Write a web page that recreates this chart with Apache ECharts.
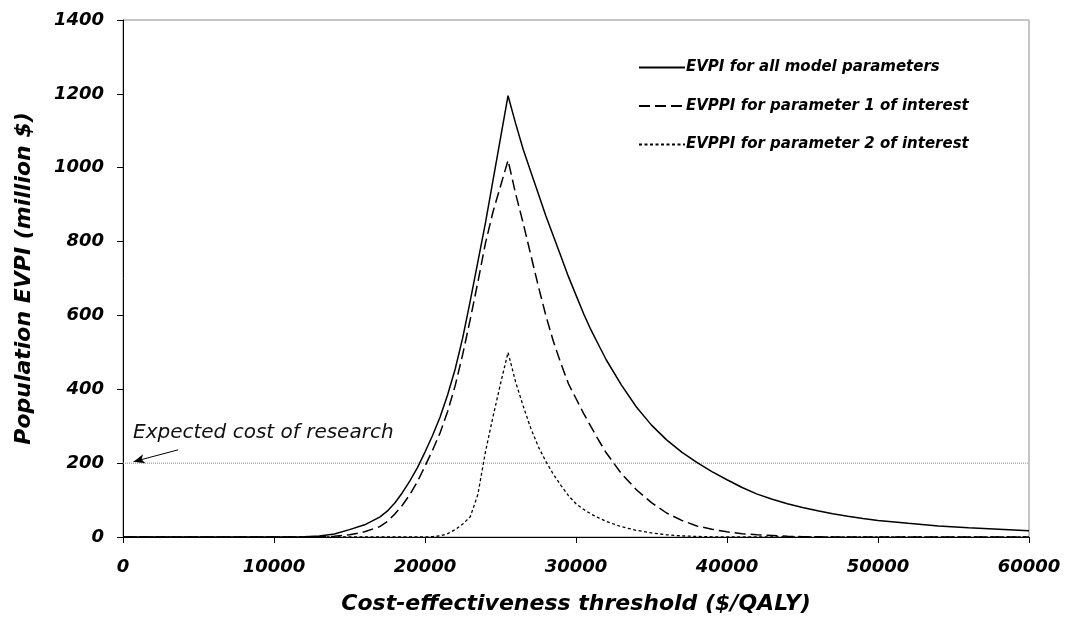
<!DOCTYPE html>
<html>
<head>
<meta charset="utf-8">
<script src="https://cdn.jsdelivr.net/npm/echarts@6/dist/echarts.min.js"></script>
<style>html,body{margin:0;padding:0;background:#fff}#c{width:1066px;height:630px}</style>
</head>
<body>
<div id="c"></div>
<script>
// Threshold values ($/QALY)
var thresholds = [0,2000,4000,6000,8000,10000,11000,12000,13000,14000,15000,16000,17000,17500,18000,18500,19000,19500,20000,20500,21000,21500,22000,22500,23000,23500,24000,24500,25000,25500,26000,26500,27000,27500,28000,28500,29000,29500,30000,30500,31000,31500,32000,33000,34000,35000,36000,37000,38000,39000,40000,41000,42000,43000,44000,45000,46000,47000,48000,49000,50000,52000,54000,56000,58000,60000];
// EVPI for all model parameters (million $)
var evpiAll = [0,0,0,0,0,0,0,1,3,8,20,33,54,70,92,120,152,188,230,275,325,385,455,540,640,745,850,965,1080,1195,1120,1050,990,930,870,815,760,705,655,605,560,520,480,412,352,303,263,230,202,177,155,134,116,102,90,80,71,63,56,50,45,37,30,25,21,17];
// EVPPI for parameter 1 of interest
var evppi1 = [0,0,0,0,0,0,0,0,0.5,2,6,14,28,42,62,86,115,150,192,235,282,340,410,495,590,690,795,880,950,1020,930,850,765,680,600,530,470,415,375,335,298,262,228,172,128,93,65,45,30,21,14,9,6,4,2,1,0.5,0,0,0,0,0,0,0,0,0];
// EVPPI for parameter 2 of interest
var evppi2 = [0,0,0,0,0,0,0,0,0,0,0,0,0,0,0,0,0,0,0,1,3,9,20,35,55,115,230,325,415,500,420,355,295,245,205,170,140,112,90,75,62,52,42,28,18,11,6,3,1.5,0.5,0,0,0,0,0,0,0,0,0,0,0,0,0,0,0,0];
var seriesNames = ['EVPI for all model parameters','EVPPI for parameter 1 of interest','EVPPI for parameter 2 of interest'];
var researchCost = 200;
var researchLabel = 'Expected cost of research';
var xTitle = 'Cost-effectiveness threshold ($/QALY)';
var yTitle = 'Population EVPI (million $)';

function pairs(ys){ return thresholds.map(function(x,i){ return [x, ys[i]]; }); }

var FONT = 'DejaVu Sans';
var chart = echarts.init(document.getElementById('c'), null, {renderer:'canvas'});
chart.setOption({
  animation:false,
  backgroundColor:'#fff',
  grid:{left:123,right:37,top:20,bottom:93,show:true,borderColor:'#8c8c8c',borderWidth:1,containLabel:false},
  legend:{
    orient:'vertical', left:633, top:55, itemWidth:46, itemHeight:14, itemGap:23.5,
    data:seriesNames,
    itemStyle:{opacity:0},
    textStyle:{fontFamily:FONT,fontStyle:'italic',fontWeight:'bold',fontSize:15,color:'#000',padding:[0,0,0,-4]}
  },
  xAxis:{
    type:'value', min:0, max:60000, interval:10000,
    name:xTitle, nameLocation:'middle', nameGap:56,
    nameTextStyle:{fontFamily:FONT,fontStyle:'italic',fontWeight:'bold',fontSize:22,color:'#000'},
    axisLine:{show:true,onZero:false,lineStyle:{color:'#000',width:1}},
    axisTick:{show:true,inside:false,length:6,lineStyle:{color:'#000'}},
    axisLabel:{fontFamily:FONT,fontStyle:'italic',fontWeight:'bold',fontSize:18,color:'#000',margin:21,
      formatter:function(v){return String(v);}},
    splitLine:{show:false}
  },
  yAxis:{
    type:'value', min:0, max:1400, interval:200,
    name:yTitle, nameLocation:'middle', nameGap:88, nameRotate:90,
    nameTextStyle:{fontFamily:FONT,fontStyle:'italic',fontWeight:'bold',fontSize:22,color:'#000'},
    axisLine:{show:true,lineStyle:{color:'#000',width:1}},
    axisTick:{show:true,inside:false,length:6,lineStyle:{color:'#000'}},
    axisLabel:{fontFamily:FONT,fontStyle:'italic',fontWeight:'bold',fontSize:18,color:'#000',margin:19,
      formatter:function(v){return String(v);}},
    splitLine:{show:false}
  },
  series:[
    {name:seriesNames[0],type:'line',data:pairs(evpiAll),symbol:'none',showSymbol:false,
      lineStyle:{color:'#000',width:1.5,type:'solid'},itemStyle:{color:'#000'},z:5},
    {name:seriesNames[1],type:'line',data:pairs(evppi1),symbol:'none',showSymbol:false,
      lineStyle:{color:'#000',width:1.5,type:[11,5]},itemStyle:{color:'#000'},z:5},
    {name:seriesNames[2],type:'line',data:pairs(evppi2),symbol:'none',showSymbol:false,
      lineStyle:{color:'#000',width:1.3,type:[3,2.5]},itemStyle:{color:'#000'},z:5},
    {name:'research',type:'line',data:[[0,researchCost],[60000,researchCost]],symbol:'none',silent:true,
      lineStyle:{color:'#888',width:1,type:[1,1]},z:2,
      markLine:{silent:true,animation:false,
        lineStyle:{color:'#000',width:1,type:'solid'},
        label:{show:false},
        data:[[{coord:[3650,236],symbol:'none'},{coord:[700,204],symbol:'arrow',symbolSize:[7,11]}]]
      }
    }
  ],
  graphic:[
    {type:'text',left:133,top:423,style:{text:researchLabel,fontFamily:FONT,fontStyle:'italic',fontSize:20,fill:'#111'}}
  ]
});
</script>
</body>
</html>
